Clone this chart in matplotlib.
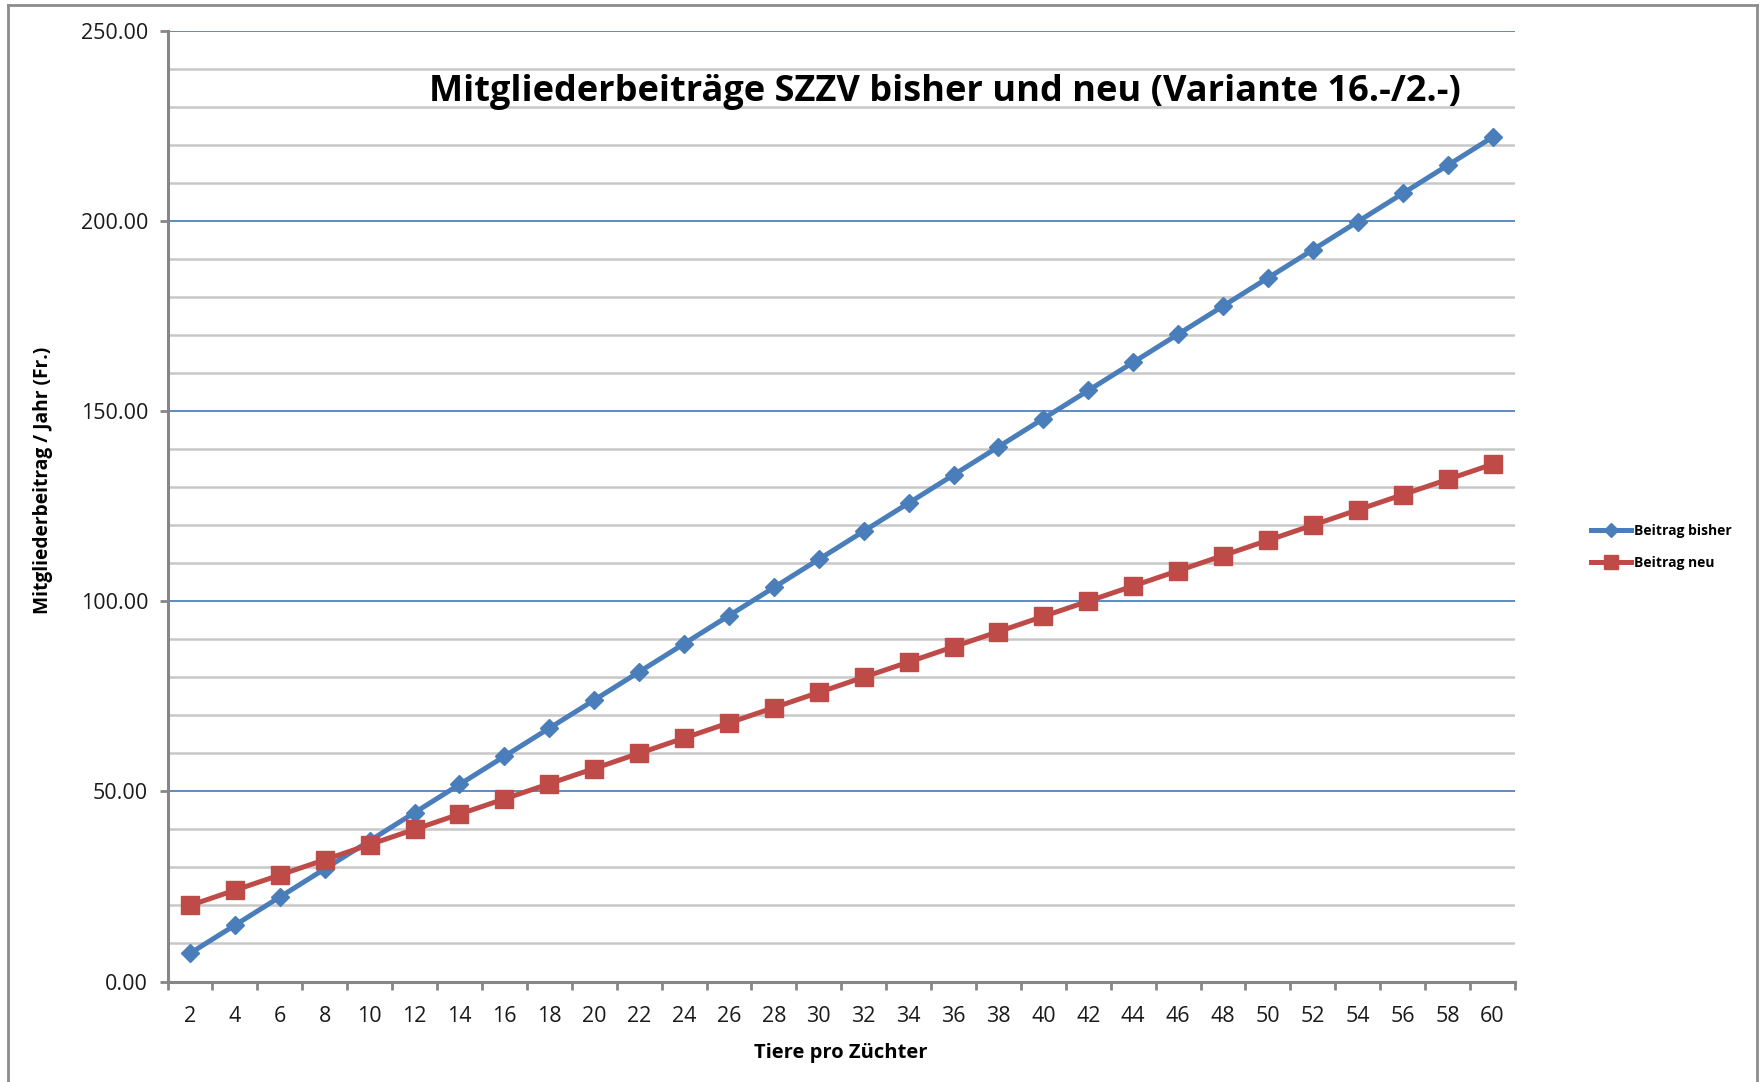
import matplotlib
matplotlib.use("Agg")
import matplotlib.pyplot as plt
from matplotlib.ticker import MultipleLocator, FixedLocator, FuncFormatter
from matplotlib.lines import Line2D

# ---- data ----
tiere = [2, 4, 6, 8, 10, 12, 14, 16, 18, 20, 22, 24, 26, 28, 30,
         32, 34, 36, 38, 40, 42, 44, 46, 48, 50, 52, 54, 56, 58, 60]
beitrag_bisher = [7.4, 14.8, 22.2, 29.6, 37.0, 44.4, 51.8, 59.2, 66.6, 74.0,
                  81.4, 88.8, 96.2, 103.6, 111.0, 118.4, 125.8, 133.2, 140.6, 148.0,
                  155.4, 162.8, 170.2, 177.6, 185.0, 192.4, 199.8, 207.2, 214.6, 222.0]
beitrag_neu = [20, 24, 28, 32, 36, 40, 44, 48, 52, 56,
               60, 64, 68, 72, 76, 80, 84, 88, 92, 96,
               100, 104, 108, 112, 116, 120, 124, 128, 132, 136]
series_labels = ["Beitrag bisher", "Beitrag neu"]
title = "Mitgliederbeiträge SZZV bisher und neu (Variante 16.-/2.-)"
xlabel = "Tiere pro Züchter"
ylabel = "Mitgliederbeitrag / Jahr (Fr.)"

plt.rcParams['font.family'] = ['Open Sans', 'DejaVu Sans']

W, H = 1764, 1082
fig = plt.figure(figsize=(W / 100, H / 100), dpi=100)
ax = fig.add_axes([167.5 / W, 1 - 981.5 / H, (1515 - 167.5) / W, (981.5 - 30.7) / H])

blue = "#4A7EBB"
red = "#BE4B48"

ax.plot(tiere, beitrag_bisher, color=blue, lw=3.6, marker="D", markersize=9.5,
        label=series_labels[0], zorder=3, clip_on=False)
ax.plot(tiere, beitrag_neu, color=red, lw=3.6, marker="s", markersize=13.5,
        label=series_labels[1], zorder=3, clip_on=False)

ax.set_xlim(1, 61)
ax.set_ylim(0, 250)

# y axis
ax.yaxis.set_major_locator(MultipleLocator(50))
ax.yaxis.set_minor_locator(MultipleLocator(10))
ax.yaxis.set_major_formatter(FuncFormatter(lambda v, p: f"{v:.2f}"))
ax.yaxis.grid(True, which="major", color="#4F81BD", lw=1.3, zorder=1)
ax.yaxis.grid(True, which="minor", color="#C8C8C8", lw=1.8, zorder=1)
ax.tick_params(axis="y", which="major", length=6, width=2, color="#868686",
               labelsize=15.5, pad=8, labelcolor="#1a1a1a")
ax.tick_params(axis="y", which="minor", length=0)

# x axis: ticks between categories, labels at centers
ax.xaxis.set_major_locator(FixedLocator([t - 1 for t in tiere] + [tiere[-1] + 1]))
ax.xaxis.set_major_formatter(FuncFormatter(lambda v, p: ""))
ax.xaxis.set_minor_locator(FixedLocator(tiere))
ax.xaxis.set_minor_formatter(FuncFormatter(lambda v, p: f"{int(round(v))}"))
ax.tick_params(axis="x", which="major", length=6, width=2, color="#868686")
ax.tick_params(axis="x", which="minor", length=0, labelsize=15.5, pad=18,
               labelcolor="#1a1a1a")

for s in ["top", "right"]:
    ax.spines[s].set_visible(False)
for s in ["left", "bottom"]:
    ax.spines[s].set_color("#868686")
    ax.spines[s].set_linewidth(2.2)
    ax.spines[s].set_zorder(2)

ax.set_xlabel(xlabel, fontsize=14.5, fontweight="bold", labelpad=11)
ax.set_ylabel(ylabel, fontsize=13.8, fontweight="bold")
ax.yaxis.set_label_coords(53 / W, 1 - 480 / H, transform=fig.transFigure)

fig.text(945 / W, 1 - 92.5 / H, title, fontsize=26, fontweight="bold",
         ha="center", va="center", color="black")

leg = fig.legend(loc="center left", bbox_to_anchor=(1578 / W, 1 - 547 / H),
                 frameon=False, fontsize=10, handlelength=2.9, handletextpad=0.25,
                 labelspacing=1.3, markerscale=0.7)
for t in leg.get_texts():
    t.set_fontweight("bold")

# outer frame (left, top, right)
fc = "#8C8C8C"
fig.add_artist(Line2D([7.5 / W, 7.5 / W], [0, 1 - 5 / H], color=fc, lw=2, transform=fig.transFigure))
fig.add_artist(Line2D([7.5 / W, 1757 / W], [1 - 5 / H, 1 - 5 / H], color=fc, lw=2, transform=fig.transFigure))
fig.add_artist(Line2D([1757 / W, 1757 / W], [0, 1 - 5 / H], color=fc, lw=2, transform=fig.transFigure))

fig.savefig("out.png", dpi=100)
